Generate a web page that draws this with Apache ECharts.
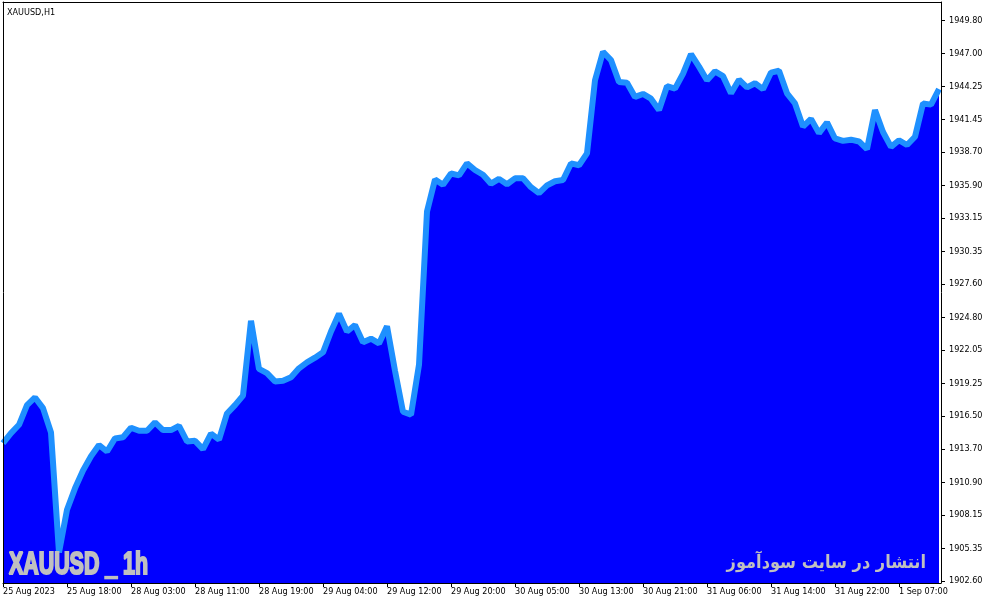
<!DOCTYPE html>
<html><head><meta charset="utf-8">
<script src="https://cdn.jsdelivr.net/npm/echarts@6/dist/echarts.min.js"></script>
<style>html,body{margin:0;padding:0;background:#fff}#c{width:987px;height:605px}</style>
</head><body><div id="c"></div>
<script>
// hourly bars (H1), server time
const categories = [
 "25 Aug 10:00","25 Aug 11:00","25 Aug 12:00","25 Aug 13:00","25 Aug 14:00","25 Aug 15:00","25 Aug 16:00","25 Aug 17:00","25 Aug 18:00","25 Aug 19:00","25 Aug 20:00","25 Aug 21:00","25 Aug 22:00","25 Aug 23:00",
 "28 Aug 01:00","28 Aug 02:00","28 Aug 03:00","28 Aug 04:00","28 Aug 05:00","28 Aug 06:00","28 Aug 07:00","28 Aug 08:00","28 Aug 09:00","28 Aug 10:00","28 Aug 11:00","28 Aug 12:00","28 Aug 13:00","28 Aug 14:00","28 Aug 15:00","28 Aug 16:00","28 Aug 17:00","28 Aug 18:00","28 Aug 19:00","28 Aug 20:00","28 Aug 21:00","28 Aug 22:00","28 Aug 23:00",
 "29 Aug 01:00","29 Aug 02:00","29 Aug 03:00","29 Aug 04:00","29 Aug 05:00","29 Aug 06:00","29 Aug 07:00","29 Aug 08:00","29 Aug 09:00","29 Aug 10:00","29 Aug 11:00","29 Aug 12:00","29 Aug 13:00","29 Aug 14:00","29 Aug 15:00","29 Aug 16:00","29 Aug 17:00","29 Aug 18:00","29 Aug 19:00","29 Aug 20:00","29 Aug 21:00","29 Aug 22:00","29 Aug 23:00",
 "30 Aug 01:00","30 Aug 02:00","30 Aug 03:00","30 Aug 04:00","30 Aug 05:00","30 Aug 06:00","30 Aug 07:00","30 Aug 08:00","30 Aug 09:00","30 Aug 10:00","30 Aug 11:00","30 Aug 12:00","30 Aug 13:00","30 Aug 14:00","30 Aug 15:00","30 Aug 16:00","30 Aug 17:00","30 Aug 18:00","30 Aug 19:00","30 Aug 20:00","30 Aug 21:00","30 Aug 22:00","30 Aug 23:00",
 "31 Aug 01:00","31 Aug 02:00","31 Aug 03:00","31 Aug 04:00","31 Aug 05:00","31 Aug 06:00","31 Aug 07:00","31 Aug 08:00","31 Aug 09:00","31 Aug 10:00","31 Aug 11:00","31 Aug 12:00","31 Aug 13:00","31 Aug 14:00","31 Aug 15:00","31 Aug 16:00","31 Aug 17:00","31 Aug 18:00","31 Aug 19:00","31 Aug 20:00","31 Aug 21:00","31 Aug 22:00","31 Aug 23:00",
 "1 Sep 01:00","1 Sep 02:00","1 Sep 03:00","1 Sep 04:00","1 Sep 05:00","1 Sep 06:00","1 Sep 07:00","1 Sep 08:00","1 Sep 09:00","1 Sep 10:00","1 Sep 11:00","1 Sep 12:00"
];
const closes = [
 1914.2,1915.05,1915.75,1917.4,1918.05,1917.15,1915.1,1905.0,1908.6,1910.4,1911.9,1913.1,1914.05,1913.5,
 1914.6,1914.7,1915.5,1915.25,1915.25,1915.95,1915.3,1915.3,1915.65,1914.35,1914.4,1913.7,1915.0,1914.5,1916.7,1917.4,1918.2,1924.5,1920.45,1920.1,1919.4,1919.45,1919.75,
 1920.5,1921.0,1921.4,1921.85,1923.6,1925.1,1923.6,1924.15,1922.7,1923.0,1922.6,1924.05,1920.3,1916.85,1916.6,1920.8,1933.7,1936.4,1935.95,1936.9,1936.75,1937.75,1937.2,
 1936.8,1936.05,1936.45,1936.0,1936.5,1936.5,1935.75,1935.25,1935.9,1936.25,1936.35,1937.75,1937.6,1938.6,1944.75,1947.15,1946.45,1944.6,1944.55,1943.35,1943.6,1943.2,1942.25,
 1944.25,1944.05,1945.3,1946.95,1945.9,1944.75,1945.5,1945.1,1943.65,1944.8,1944.15,1944.5,1944.0,1945.4,1945.55,1943.65,1942.8,1940.85,1941.5,1940.3,1941.2,1939.85,1939.65,
 1939.75,1939.6,1938.95,1942.25,1940.4,1939.15,1939.7,1939.3,1940.0,1942.8,1942.7,1944.0
];
const tickIdx = [0,8,16,24,32,40,48,56,64,72,80,88,96,104,112];
const tickLabels = ["25 Aug 2023","25 Aug 18:00","28 Aug 03:00","28 Aug 11:00","28 Aug 19:00","29 Aug 04:00","29 Aug 12:00","29 Aug 20:00","30 Aug 05:00","30 Aug 13:00","30 Aug 21:00","31 Aug 06:00","31 Aug 14:00","31 Aug 22:00","1 Sep 07:00"];
const priceTicks = [1902.60,1905.35,1908.15,1910.90,1913.70,1916.50,1919.25,1922.05,1924.80,1927.60,1930.35,1933.15,1935.90,1938.70,1941.45,1944.25,1947.00,1949.80];
const symbolLabel = "XAUUSD,H1";
const watermarkLeft = "XAUUSD _ 1h";
const watermarkRight = "انتشار در سایت سودآموز";

const FONT = '"DejaVu Sans Condensed","DejaVu Sans",sans-serif';
const Y_MIN = 1902.43, Y_MAX = 1951.34, X_MAX = 117.25;

const chart = echarts.init(document.getElementById('c'), null, {renderer:'canvas'});
chart.setOption({
  animation:false,
  backgroundColor:'#ffffff',
  title:{text:symbolLabel,left:7,top:8,padding:0,textStyle:{fontFamily:FONT,fontSize:9,fontWeight:'normal',color:'#000'}},
  grid:{left:3,top:2,right:46,bottom:22},
  xAxis:[
    {type:'value',min:0,max:X_MAX,position:'bottom',z:5,
     axisLine:{show:true,onZero:false,lineStyle:{color:'#000',width:1}},
     axisTick:{show:true,length:4,customValues:tickIdx,lineStyle:{color:'#000'}},
     axisLabel:{customValues:tickIdx,formatter:v=>tickLabels[tickIdx.indexOf(v)],align:'left',margin:4,fontFamily:FONT,fontSize:9,color:'#000'},
     splitLine:{show:false}},
    {type:'value',min:0,max:X_MAX,position:'top',z:5,
     axisLine:{show:true,onZero:false,lineStyle:{color:'#000',width:1}},
     axisTick:{show:false},axisLabel:{show:false},splitLine:{show:false}}
  ],
  yAxis:[
    {type:'value',min:Y_MIN,max:Y_MAX,position:'right',z:5,
     axisLine:{show:true,onZero:false,lineStyle:{color:'#000',width:1}},
     axisTick:{show:true,length:4,customValues:priceTicks,lineStyle:{color:'#000'}},
     axisLabel:{customValues:priceTicks,formatter:v=>v.toFixed(2),margin:8,fontFamily:FONT,fontSize:9,color:'#000'},
     splitLine:{show:false}},
    {type:'value',min:Y_MIN,max:Y_MAX,position:'left',z:5,
     axisLine:{show:true,onZero:false,lineStyle:{color:'#000',width:1}},
     axisTick:{show:false},axisLabel:{show:false},splitLine:{show:false}}
  ],
  series:[{
    type:'line',xAxisIndex:0,yAxisIndex:0,
    data:closes.map((v,i)=>[i,v]),
    symbol:'none',showSymbol:false,
    lineStyle:{color:'#1E90FF',width:6},
    areaStyle:{color:'#0000FF',opacity:1,origin:'start'},
    z:2
  }],
  graphic:[
    {type:'text',x:9,y:565,scaleX:0.69,z:10,
     style:{text:watermarkLeft,font:'bold 31px "Liberation Sans", Arial, sans-serif',fill:'#C0C0C0',stroke:'#C0C0C0',lineWidth:2.2,align:'left',verticalAlign:'middle'}},
    {type:'text',x:926,y:563,scaleX:0.9,z:10,
     style:{text:watermarkRight,font:'bold 18px "DejaVu Sans", sans-serif',fill:'#C0C0C0',align:'right',verticalAlign:'middle'}}
  ]
});
</script>
</body></html>
